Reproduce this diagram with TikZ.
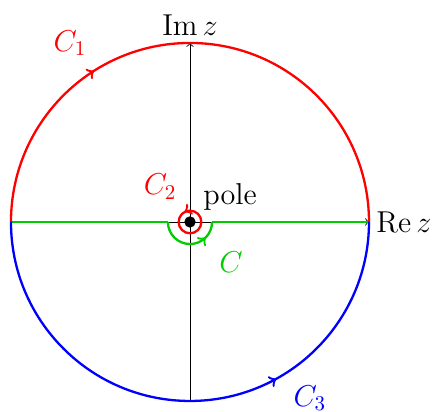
\documentclass[tikz,border=0pt]{standalone}
\usepackage{amsmath}
\usetikzlibrary{decorations.markings}

\begin{document}
\begin{tikzpicture}[
    axisline/.style={draw=black, line width=0.4pt, ->},
    contour/.style={line width=1.1pt},
    midarrow/.style={postaction={decorate}, decoration={markings, mark=at position #1 with {\arrow{>}}}},
    clabel/.style={font=\Large}
]

\useasboundingbox (-3.184,-3.184) rectangle (4.106,3.72);

\coordinate (west) at (-3,0);
\coordinate (east) at (3,0);
\coordinate (south) at (0,-3);
\coordinate (north) at (0,3);

% axes
\draw[axisline] (west) -- (east);
\draw[axisline] (south) -- (north);
\node[clabel, anchor=west] (rez) at (east) {$\operatorname{Re} z$};
\node[clabel, anchor=south] (imz) at (north) {$\operatorname{Im} z$};

% indented contour C
\draw[contour, green!80!black] (west) -- (-0.37,0);
\draw[contour, green!80!black] (0.37,0) -- (east);
\draw[contour, green!80!black, midarrow=0.75] (-0.37,0) arc (180:360:0.37);

% big arcs
\draw[contour, red, midarrow=0.32] (west) arc (180:0:3);
\draw[contour, blue, midarrow=0.66] (west) arc (180:360:3);

% small circle around the pole
\draw[contour, red, midarrow=0.33] (0.19,0) arc (0:360:0.19);
\node[circle, fill=black, inner sep=0pt, minimum size=1.9mm] (pole) at (0,0) {};
\node[clabel] (polelabel) at (0.67,0.42) {pole};

\node[clabel, text=red] (cone) at (-2.01,3.0) {$C_1$};
\node[clabel, text=red] (ctwo) at (-0.5,0.59) {$C_2$};
\node[clabel, text=blue] (cthree) at (2.01,-2.95) {$C_3$};
\node[clabel, text=green!80!black] (cc) at (0.69,-0.67) {$C$};

\end{tikzpicture}
\end{document}
